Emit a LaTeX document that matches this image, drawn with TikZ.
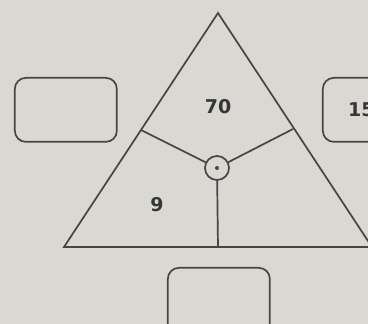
\documentclass[tikz,border=0pt]{standalone}
\usepackage{fontspec}
\setmainfont{DejaVu Sans}
\definecolor{bg}{HTML}{DAD8D3}
\definecolor{ink}{HTML}{454545}
\definecolor{txt}{HTML}{353535}
\begin{document}
\begin{tikzpicture}[x=1pt,y=-1pt,
  line/.style={draw=ink,line width=1.7pt},
  answerbox/.style={draw=ink,line width=1.7pt,rounded corners=11pt,minimum width=102pt,minimum height=64pt,inner sep=0pt,anchor=north west},
  num/.style={font=\bfseries\fontsize{19}{19}\selectfont,text=txt,inner sep=0pt}]
\fill[bg] (0,0) rectangle (368,324);
\useasboundingbox (0,0) rectangle (368,324);
\clip (0,0) rectangle (368,324);
% triangle
\coordinate (apex) at (218,13);
\coordinate (bl) at (64,247);
\coordinate (br) at (372,247);
\draw[line,line join=miter] (apex) -- (bl) -- (br) -- cycle;
% spoke end points
\coordinate (el) at (141,130);
\coordinate (er) at (293,129);
\coordinate (eb) at (218,247);
\node[draw=ink,line width=1.7pt,circle,minimum size=24pt,inner sep=0pt] (c) at (217,168) {};
\fill[ink] (c.center) circle (2pt);
\draw[line] (c) -- (el);
\draw[line] (c) -- (er);
\draw[line] (c) -- (eb);
% numbers
\node[num] (n70) at (218,107) {70};
\node[num] (n9) at (157,205) {9};
% boxes
\node[answerbox] (lbox) at (14,77) {};
\node[answerbox] (rbox) at (322,77) {};
\node[answerbox,minimum height=72pt] (bbox) at (167,267) {};
\node[num,anchor=west] (r15) at (348,110) {15};
\end{tikzpicture}
\end{document}
